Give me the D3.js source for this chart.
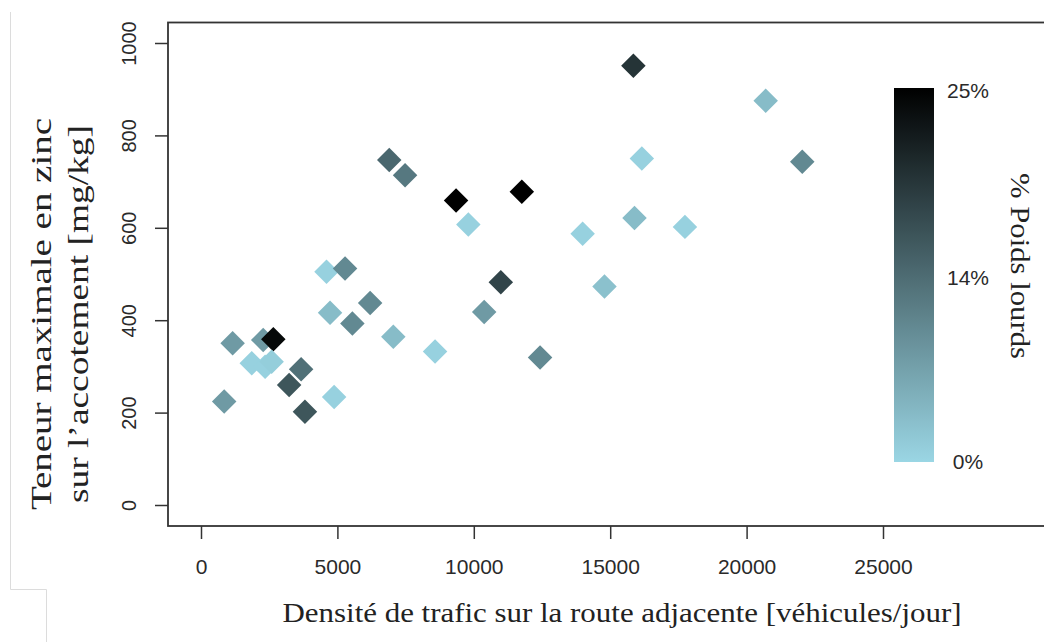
<!DOCTYPE html>
<html>
<head>
<meta charset="utf-8">
<script src="https://cdn.jsdelivr.net/npm/d3@7"></script>
<style>
  body { margin: 0; background: #fff; }
  svg { display: block; }
</style>
</head>
<body>
<script>
// chart data
const trafic = [2280, 6900, 7480, 4600, 5280, 6200, 4730, 5550, 7050, 8580, 1160, 2650,
  1860, 2350, 2590, 3670, 3230, 850, 3810, 4880, 9350, 11760, 9800, 13990, 15890,
  16160, 10990, 10380, 14790, 12430, 15850, 20700, 22040, 17740];
const zinc = [357, 747, 714, 505, 512, 437, 416, 393, 364, 332, 350, 359,
  307, 299, 310, 294, 260, 224, 202, 234, 659, 678, 607, 587, 621,
  750, 482, 418, 473, 319, 951, 875, 743, 602];
const poidsLourds = [7.8, 14.4, 12.3, 0.6, 10.1, 10.1, 3.4, 10.1, 3.4, 0.6, 7.8, 24.1,
  0.6, 0.6, 1.1, 13.4, 16.2, 7.8, 16.2, 0.6, 25, 25, 0.6, 0.6, 3.4,
  0.6, 18, 7.8, 2.8, 10.1, 19.7, 3.4, 10.1, 0.6];
const xTicks = [0, 5000, 10000, 15000, 20000, 25000];
const yTicks = [0, 200, 400, 600, 800, 1000];
const legendTicks = [0, 14, 25];

const width = 1044, height = 642;

const svg = d3.select("body").append("svg")
  .attr("width", width)
  .attr("height", height);

// faint frame left over from the screenshot
svg.append("path")
  .attr("d", "M10.5,12 V589.5 H46.5 V642")
  .attr("fill", "none")
  .attr("stroke", "#dcdcdc")
  .attr("stroke-width", 1);

const x = d3.scaleLinear().domain([0, 25000]).range([201, 883]);
const y = d3.scaleLinear().domain([0, 1000]).range([505, 43]);
// 14% sits in the middle of the colour bar
const color = d3.scaleLinear().domain([0, 14, 25])
  .range(["#9ad6e4", "#4d6b72", "#000000"])
  .interpolate(d3.interpolateRgb);

// plot box
const box = { left: 168, top: 22.5, right: 1050, bottom: 526 };
svg.append("rect")
  .attr("x", box.left).attr("y", box.top)
  .attr("width", box.right - box.left).attr("height", box.bottom - box.top)
  .attr("fill", "none")
  .attr("stroke", "#333")
  .attr("stroke-width", 1.8);

const sans = "'Liberation Sans', Arial, sans-serif";
const serif = "'Liberation Serif', 'Times New Roman', serif";

// x axis
const xAxis = svg.append("g")
  .attr("transform", `translate(0,${box.bottom})`)
  .call(d3.axisBottom(x).tickValues(xTicks).tickSize(13).tickFormat(d3.format("d")));
xAxis.select(".domain").remove();
xAxis.selectAll("line").attr("stroke", "#333").attr("stroke-width", 1.5);
xAxis.selectAll("text")
  .attr("y", 41)
  .attr("dy", "0.35em")
  .attr("fill", "#2a2a2a")
  .style("font-family", sans)
  .style("font-size", "21px");

// y axis, labels turned like R does
const yAxis = svg.append("g")
  .attr("transform", `translate(${box.left},0)`)
  .call(d3.axisLeft(y).tickValues(yTicks).tickSize(13).tickFormat(d3.format("d")));
yAxis.select(".domain").remove();
yAxis.selectAll("line").attr("stroke", "#333").attr("stroke-width", 1.5);
yAxis.selectAll("text")
  .attr("x", 0).attr("y", 0)
  .attr("dy", "0.35em")
  .attr("text-anchor", "middle")
  .attr("transform", "translate(-39,0) rotate(-90)")
  .attr("fill", "#2a2a2a")
  .style("font-family", sans)
  .style("font-size", "20px");

// points
const diamond = d3.symbol().type(d3.symbolSquare).size(300);
svg.append("g").selectAll("path")
  .data(trafic.map((t, i) => ({ t: t, z: zinc[i], p: poidsLourds[i] })))
  .enter()
  .append("path")
  .attr("d", diamond)
  .attr("transform", d => `translate(${x(d.t)},${y(d.z)}) rotate(45)`)
  .attr("fill", d => color(d.p));

// axis titles
svg.append("text")
  .attr("x", 622).attr("y", 622)
  .attr("text-anchor", "middle")
  .attr("textLength", 679)
  .attr("lengthAdjust", "spacingAndGlyphs")
  .attr("fill", "#222")
  .style("font-family", serif)
  .style("font-size", "28px")
  .text("Densité de trafic sur la route adjacente [véhicules/jour]");

const yTitle = svg.append("text")
  .attr("transform", "translate(0,314) rotate(-90)")
  .attr("text-anchor", "middle")
  .attr("fill", "#222")
  .style("font-family", serif)
  .style("font-size", "30px");
yTitle.append("tspan").attr("x", 0).attr("y", 51)
  .attr("textLength", 392).attr("lengthAdjust", "spacingAndGlyphs")
  .text("Teneur maximale en zinc");
yTitle.append("tspan").attr("x", 0).attr("y", 88)
  .attr("textLength", 378).attr("lengthAdjust", "spacingAndGlyphs")
  .text("sur l’accotement [mg/kg]");

// colour bar
const cb = { x: 894, w: 40 };
const cbY = d3.scaleLinear().domain([0, 14, 25]).range([462, 275, 88]);
const grad = svg.append("defs").append("linearGradient")
  .attr("id", "grad")
  .attr("x1", 0).attr("y1", 1).attr("x2", 0).attr("y2", 0);
d3.range(0, 26, 1).forEach(v => {
  grad.append("stop")
    .attr("offset", (cbY(0) - cbY(v)) / (cbY(0) - cbY(25)))
    .attr("stop-color", color(v));
});
svg.append("rect")
  .attr("x", cb.x).attr("y", cbY(25))
  .attr("width", cb.w).attr("height", cbY(0) - cbY(25))
  .attr("fill", "url(#grad)");

svg.append("g").selectAll("text")
  .data(legendTicks)
  .enter()
  .append("text")
  .attr("x", 968)
  .attr("y", d => cbY(d) + (d === 0 ? 0 : 3))
  .attr("dy", "0.35em")
  .attr("text-anchor", "middle")
  .attr("fill", "#2a2a2a")
  .style("font-family", sans)
  .style("font-size", "21px")
  .text(d => d + "%");

svg.append("text")
  .attr("transform", "translate(1011,266) rotate(90)")
  .attr("text-anchor", "middle")
  .attr("textLength", 186)
  .attr("lengthAdjust", "spacingAndGlyphs")
  .attr("fill", "#222")
  .style("font-family", serif)
  .style("font-size", "28px")
  .text("% Poids lourds");
</script>
</body>
</html>
